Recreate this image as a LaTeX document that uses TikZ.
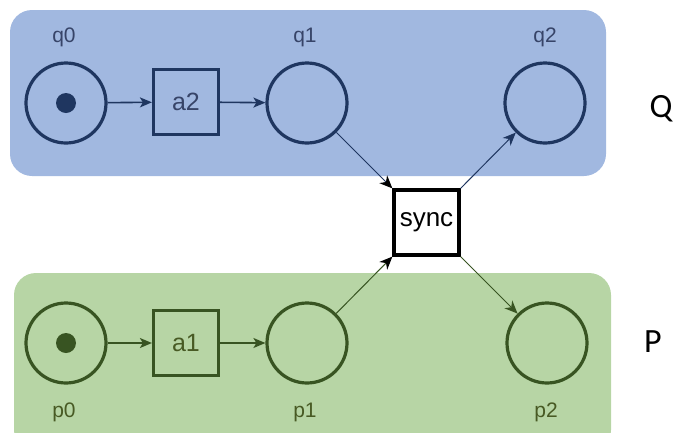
\documentclass[tikz,border=0pt]{standalone}
\usepackage{fontspec}
\setmainfont{Liberation Sans}
\newfontfamily\carlito{Carlito}
\usetikzlibrary{arrows.meta}
\definecolor{qfill}{RGB}{161,184,224}
\definecolor{qdark}{RGB}{31,54,96}
\definecolor{qtext}{RGB}{55,68,104}
\definecolor{pfill}{RGB}{183,213,165}
\definecolor{pdark}{RGB}{56,84,34}
\definecolor{ptext}{RGB}{72,90,36}
\tikzset{
  place/.style={circle, draw, line width=3.2pt, minimum size=80pt, inner sep=0pt},
  trans/.style={rectangle, draw, line width=3.2pt, minimum size=65pt, inner sep=0pt, font=\fontsize{25}{25}\selectfont},
  token/.style={circle, fill, minimum size=20pt, inner sep=0pt},
  lbl/.style={font=\fontsize{21}{21}\selectfont, inner sep=0pt},
  flow/.style={line width=1.6pt, -{Stealth[length=12pt,width=10pt,inset=3pt]}},
  sflow/.style={line width=1pt, -{Stealth[length=13pt,width=11pt,inset=4pt,fill=black,color=black]}},
  region/.style={rounded corners=22pt, draw=none},
  side/.style={font=\carlito\fontsize{34}{34}\selectfont, inner sep=0pt}
}
\begin{document}
\begin{tikzpicture}[x=1pt,y=-1pt]
\useasboundingbox (0,0) rectangle (678,432);
\begin{scope}
\clip (0,0) rectangle (678,432);
\fill[qfill, region] (10,10) rectangle (606,176);
\fill[pfill, region] (14,273) rectangle (611,452);
\end{scope}

% Q net
\node[place, draw=qdark] (q0) at (66,103) {};
\node[token, fill=qdark] (t0) at (66,103) {};
\node[trans, draw=qdark, text=qtext] (a2) at (186,102) {a2};
\node[place, draw=qdark] (q1) at (307,103) {};
\node[place, draw=qdark] (q2) at (545,103) {};
\node[lbl, text=qtext] (lq0) at (64,37) {q0};
\node[lbl, text=qtext] (lq1) at (305,37) {q1};
\node[lbl, text=qtext] (lq2) at (545,37) {q2};

% P net
\node[place, draw=pdark] (p0) at (66,343) {};
\node[token, fill=pdark] (t1) at (66,343) {};
\node[trans, draw=pdark, text=ptext] (a1) at (186,343) {a1};
\node[place, draw=pdark] (p1) at (307,343) {};
\node[place, draw=pdark] (p2) at (547,343) {};
\node[lbl, text=ptext] (lp0) at (64,412) {p0};
\node[lbl, text=ptext] (lp1) at (305,412) {p1};
\node[lbl, text=ptext] (lp2) at (546,412) {p2};

% sync
\node[trans, draw=black, fill=white, text=black, font=\fontsize{26}{26}\selectfont] (sync) at (426.5,222.5) {sync};

% arcs
\draw[flow, draw=qdark, color=qdark] (q0) -- (a2);
\draw[flow, draw=qdark, color=qdark] (a2) -- (q1);
\draw[flow, draw=pdark, color=pdark] (p0) -- (a1);
\draw[flow, draw=pdark, color=pdark] (a1) -- (p1);
\draw[sflow, draw=qdark] (q1) -- (sync.north west);
\draw[sflow, draw=qdark, -{Stealth[length=13pt,width=11pt,inset=4pt,fill=qdark,color=qdark]}] (sync.north east) -- (q2);
\draw[sflow, draw=pdark] (p1) -- (sync.south west);
\draw[sflow, draw=pdark, -{Stealth[length=13pt,width=11pt,inset=4pt,fill=pdark,color=pdark]}] (sync.south east) -- (p2);

% side labels
\node[side] (Q) at (661,109) {Q};
\node[side] (P) at (653,342) {P};
\end{tikzpicture}
\end{document}
